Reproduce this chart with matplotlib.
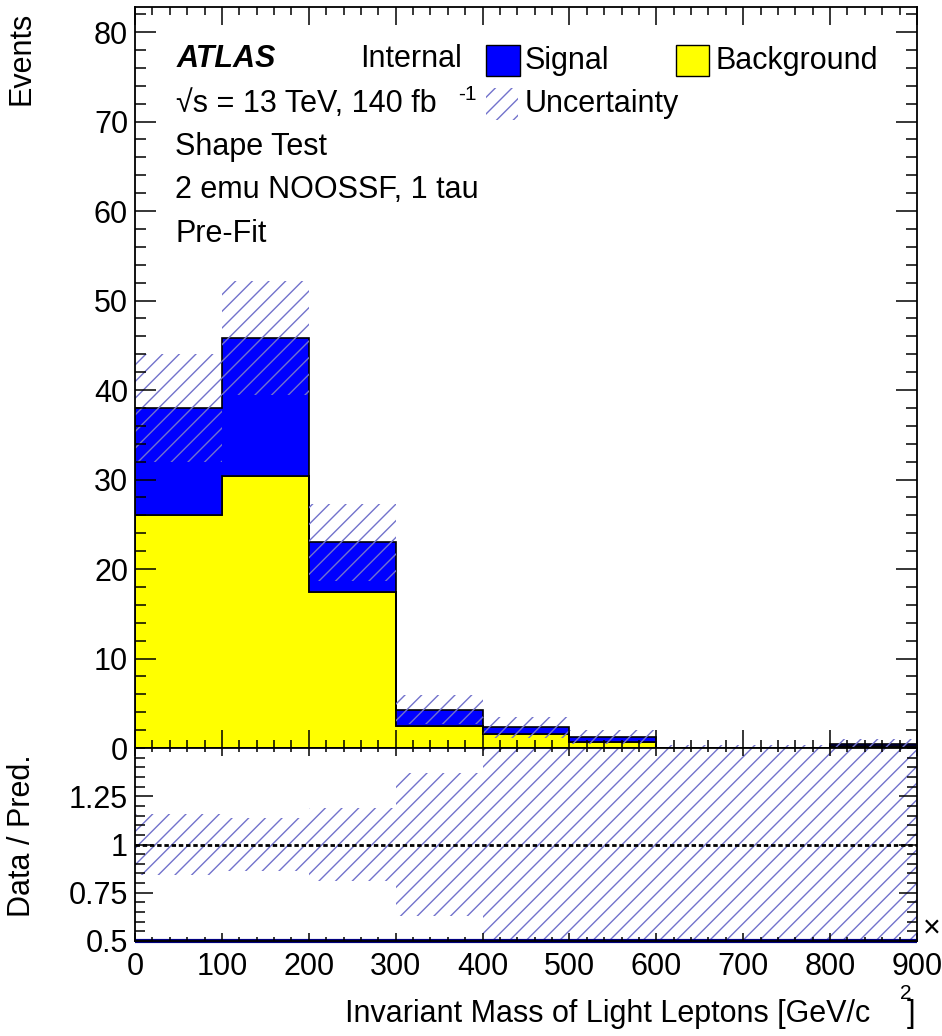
import numpy as np
import matplotlib
matplotlib.use('Agg')
import matplotlib.pyplot as plt
from matplotlib.patches import Rectangle
from matplotlib.ticker import MultipleLocator, FixedLocator, FuncFormatter

plt.rcParams['font.family'] = ['Liberation Sans', 'DejaVu Sans']
plt.rcParams['hatch.linewidth'] = 1.0

# histogram content
edges = [0, 100, 200, 300, 400, 500, 600, 700, 800, 900]
background = [26.0, 30.4, 17.4, 2.5, 1.6, 0.7, 0.02, 0.02, 0.25]
signal = [12.0, 15.4, 5.6, 1.8, 0.7, 0.5, 0.03, 0.03, 0.2]
uncertainty = [6.0, 6.4, 4.3, 1.6, 1.2, 0.8, 0.3, 0.3, 0.5]
data = [0, 0, 0, 0, 0, 0, 0, 0, 0]

W, H = 942, 1036
HATCH_COL = '#7272cc'
FS = 22


def fx(x):
    return x / W


def fy(y):
    return 1 - y / H


bkg = np.array(background)
total = bkg + np.array(signal)
unc = np.array(uncertainty)

fig = plt.figure(figsize=(W / 100, H / 100), dpi=100)
ax = fig.add_axes([fx(135), fy(748), (917 - 135) / W, (748 - 7) / H])
ax2 = fig.add_axes([fx(135), fy(941), (917 - 135) / W, (941 - 748) / H],
                   sharex=ax)

# main panel
ax.stairs(bkg, edges, baseline=0, fill=True, facecolor='#ffff00',
          edgecolor='black', linewidth=1.2)
ax.stairs(total, edges, baseline=bkg, fill=True, facecolor='#0000ff',
          edgecolor='black', linewidth=1.2)
ax.stairs(total + unc, edges, baseline=total - unc, fill=True,
          facecolor='none', edgecolor=HATCH_COL, hatch='//', linewidth=0)
ax.set_xlim(0, 900)
ax.set_ylim(0, 82.8)
ax.yaxis.set_major_locator(MultipleLocator(10))
ax.yaxis.set_minor_locator(MultipleLocator(2))
ax.xaxis.set_major_locator(MultipleLocator(100))
ax.xaxis.set_minor_locator(MultipleLocator(20))
ax.tick_params(which='both', direction='in', top=True, right=True,
               labelbottom=False, labelsize=FS, width=1.1)
ax.tick_params(axis='y', which='major', length=15, pad=5)
ax.tick_params(axis='y', which='minor', length=8)
ax.tick_params(axis='x', which='major', length=13)
ax.tick_params(axis='x', which='minor', length=6)

# ratio panel
rel = np.minimum(unc / total, 0.6)
ax2.stairs(1 + rel, edges, baseline=1 - rel, fill=True, facecolor='none',
           edgecolor=HATCH_COL, hatch='//', linewidth=0)
ax2.axhline(1, color='black', linestyle=(0, (1.6, 1.0)), linewidth=2)
ratio = np.array(data) / total
ax2.stairs(np.clip(ratio, 0.5, 1.5), edges, baseline=None, color='#000080',
           linewidth=3, clip_on=False)
ax2.set_ylim(0.5, 1.5)
ax2.yaxis.set_major_locator(FixedLocator([0.5, 0.75, 1.0, 1.25]))
ax2.yaxis.set_minor_locator(MultipleLocator(0.05))
ax2.yaxis.set_major_formatter(FuncFormatter(lambda v, p: '%g' % v))
ax2.tick_params(which='both', direction='in', top=True, right=True,
                labelsize=FS, width=1.1)
ax2.tick_params(axis='y', which='major', length=13, pad=5)
ax2.tick_params(axis='y', which='minor', length=7)
ax2.tick_params(axis='x', which='major', length=6, pad=8)
ax2.tick_params(axis='x', which='minor', length=3)

for a in (ax, ax2):
    for s in a.spines.values():
        s.set_linewidth(1.3)

# axis titles
fig.text(fx(22), fy(12), 'Events', rotation=90, ha='center', va='top',
         fontsize=FS)
fig.text(fx(22), fy(836), 'Data / Pred.', rotation=90, ha='center',
         va='center', fontsize=FS)
fig.text(fx(870), fy(1022), 'Invariant Mass of Light Leptons [GeV/c',
         ha='right', va='baseline', fontsize=FS)
fig.text(fx(900), fy(999), '2', ha='left', va='baseline', fontsize=15)
fig.text(fx(907), fy(1022), ']', ha='left', va='baseline', fontsize=FS)
fig.text(fx(923), fy(929), '\u00d7', ha='left', va='center', fontsize=FS)

# labels and legend
fig.text(fx(177), fy(67), 'ATLAS', fontsize=FS, fontweight='bold',
         fontstyle='italic', va='baseline')
fig.text(fx(360), fy(67), 'Internal', fontsize=FS, va='baseline')
fig.text(fx(176), fy(112), '\u221as = 13 TeV, 140 fb', fontsize=FS,
         va='baseline')
fig.text(fx(458), fy(100), '-1', fontsize=15, va='baseline')
fig.text(fx(175), fy(155), 'Shape Test', fontsize=FS, va='baseline')
fig.text(fx(175), fy(198), '2 emu NOOSSF, 1 tau', fontsize=FS,
         va='baseline')
fig.text(fx(175), fy(242), 'Pre-Fit', fontsize=FS, va='baseline')

fig.add_artist(Rectangle((fx(486), fy(76)), 34 / W, 31 / H,
                         facecolor='#0000ff', edgecolor='black',
                         linewidth=1, transform=fig.transFigure))
fig.text(fx(525), fy(69), 'Signal', fontsize=FS, va='baseline')
fig.add_artist(Rectangle((fx(676), fy(76)), 33 / W, 31 / H,
                         facecolor='#ffff00', edgecolor='black',
                         linewidth=1, transform=fig.transFigure))
fig.text(fx(716), fy(69), 'Background', fontsize=FS, va='baseline')
fig.add_artist(Rectangle((fx(486), fy(120)), 32 / W, 32 / H,
                         facecolor='none', edgecolor=HATCH_COL, hatch='//',
                         linewidth=0, transform=fig.transFigure))
fig.text(fx(525), fy(112), 'Uncertainty', fontsize=FS, va='baseline')

fig.savefig('out.png', dpi=100)
